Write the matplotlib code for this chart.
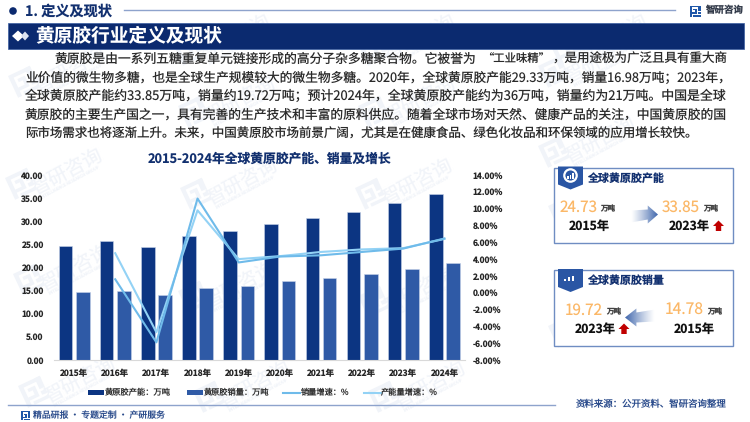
import numpy as np
import matplotlib
matplotlib.use("Agg")
import matplotlib.pyplot as plt
from matplotlib.patches import Polygon, Rectangle, Circle
from matplotlib.transforms import Affine2D

plt.rcParams['font.family'] = ['Noto Sans CJK SC', 'DejaVu Sans']
plt.rcParams['text.hinting'] = 'no_hinting'
plt.rcParams['text.hinting_factor'] = 1

years = ["2015年", "2016年", "2017年", "2018年", "2019年", "2020年", "2021年", "2022年", "2023年", "2024年"]
capacity = [24.73, 25.8, 24.5, 26.9, 27.9, 29.33, 30.6, 32.0, 33.85, 36.0]
sales = [14.78, 14.9, 14.0, 15.6, 16.1, 16.98, 17.7, 18.6, 19.72, 21.0]
sales_growth = [None, 1.6, -5.9, 11.2, 3.6, 4.3, 4.45, 4.85, 5.25, 6.45]
capacity_growth = [None, 4.7, -4.7, 9.8, 4.0, 4.35, 4.85, 5.15, 5.3, 6.4]
left_ticks = [0, 5, 10, 15, 20, 25, 30, 35, 40]
right_ticks = [-8, -6, -4, -2, 0, 2, 4, 6, 8, 10, 12, 14]
body_first = ["黄原胶是由一系列五糖重复单元链接形成的高分子杂多糖聚合物。它被誉为", "“工业味精”", "，是用途极为广泛且具有重大商"]
body = [
    "业价值的微生物多糖，也是全球生产规模较大的微生物多糖。2020年，全球黄原胶产能29.33万吨，销量16.98万吨；2023年，",
    "全球黄原胶产能约33.85万吨，销量约19.72万吨；预计2024年，全球黄原胶产能约为36万吨，销量约为21万吨。中国是全球",
    "黄原胶的主要生产国之一，具有完善的生产技术和丰富的原料供应。随着全球市场对天然、健康产品的关注，中国黄原胶的国",
    "际市场需求也将逐渐上升。未来，中国黄原胶市场前景广阔，尤其是在健康食品、绿色化妆品和环保领域的应用增长较快。",
]
body_ends = [732, 727, 727, 698]

W, H = 750, 422
NAVY = "#0B2A6F"
DARK = "#0C3582"
MID = "#2F5AA6"
LINE1 = "#6FBBEA"
LINE2 = "#93D2F5"
RULE = "#8EA3CC"
ORANGE = "#FBB868"
TITLE = "#12306F"
WM = "#F1F4F9"

fig = plt.figure(figsize=(7.5, 4.22), dpi=100, facecolor="white")
bg = fig.add_axes([0, 0, 1, 1], zorder=0)
bg.set_xlim(0, W); bg.set_ylim(H, 0); bg.axis("off")
renderer = fig.canvas.get_renderer()


def fit(x0, x1, y, s, size=9, **kw):
    """Text that spans x0..x1 pixels: font size is scaled from its measured width."""
    kw.setdefault("zorder", 4)
    t = bg.text(x0, y, s, fontsize=size, va="center", ha="left", **kw)
    width = t.get_window_extent(renderer).width
    t.set_fontsize(size * (x1 - x0) / width)
    return t


def logo(ax, x, y, s, color, rot=0, z=1, alpha=1):
    tr = Affine2D().scale(s).rotate_deg(rot).translate(x, y) + ax.transData
    shapes = [
        [(0, 0), (1, 0), (1, .16), (.18, .16), (.18, .62), (.48, .62), (.48, .42), (.3, .42), (.3, .28),
         (.64, .28), (.64, .76), (.18, .76), (.18, 1), (0, 1)],
        [(.76, 0), (1, 0), (1, .5), (.76, .5)],
        [(.3, .86), (1, .86), (1, 1), (.3, 1)],
        [(.76, .6), (1, .6), (1, .76), (.76, .76)],
    ]
    for p in shapes:
        ax.add_patch(Polygon(p, closed=True, fc=color, ec="none", transform=tr, zorder=z, alpha=alpha))


# watermarks
marks = [(67, 172), (242, 182), (417, 182), (600, 60), (75, 268), (240, 285), (420, 290), (610, 200),
         (80, 380), (255, 385), (430, 385), (610, 320), (235, 38), (420, 38), (612, 38), (70, 70), (240, 100), (420, 100), (600, 140)]
for mx, my in marks:
    bg.text(mx, my, "智研咨询", fontsize=14, color=WM, rotation=28, ha="center", va="center", zorder=0.5)
    bg.text(mx + 3, my + 10, "INTELLIGENCE RESEARCH GROUP", fontsize=3, color=WM, rotation=28,
            ha="center", va="center", zorder=0.5)
    logo(bg, mx - 62, my + 6, 24, WM, rot=-25, z=0.5)

# header
bg.add_patch(Circle((13, 11), 3.8, fc=NAVY, ec="none", zorder=2))
fit(25, 112, 11, "1. 定义及现状", fontweight="bold", color=TITLE)
bg.plot([124, 675], [10, 10], color=RULE, lw=1, zorder=2)
logo(bg, 690, 5.5, 11, "#1F57A8", z=3)
fit(705, 743, 10, "智研咨询", fontweight="bold", color="#333B4A")

# banner
bg.add_patch(Rectangle((8, 22.5), 736, 26, fc=NAVY, ec="#3A5DA0", lw=0.5, zorder=2))
bg.add_patch(Polygon([(12, 36), (18, 30.5), (24, 36), (18, 41.5)], fc="white", ec="none", zorder=3))
bg.add_patch(Polygon([(21, 36), (25, 31.5), (29, 36), (25, 40.5)], fc="#DCE3F0", ec="none", zorder=3))
fit(35, 222, 35.5, "黄原胶行业定义及现状", fontweight="bold", color="white")

# body text
BODY = "#2A2A2A"
fit(55, 477, 59, body_first[0], color=BODY)
fit(482, 550, 59, body_first[1], color=BODY)
fit(552, 727, 59, body_first[2], color=BODY)
for i, (line, end) in enumerate(zip(body, body_ends)):
    fit(25, end, 77.7 + i * 18.7, line, color=BODY)

fit(148, 392, 159, "2015-2024年全球黄原胶产能、销量及增长", fontweight="bold", color=TITLE)

# chart
ax = fig.add_axes([53.5 / W, 1 - 360 / H, 411.5 / W, 185 / H], zorder=2)
ax.patch.set_alpha(0)
x = np.arange(len(years))
barw = 0.33
ax.bar(x - 0.21, capacity, barw, color=DARK, edgecolor="#C7D3E8", linewidth=0.4, zorder=2)
ax.bar(x + 0.21, sales, barw, color=MID, edgecolor="#C7D3E8", linewidth=0.4, zorder=2)
ax.set_xlim(-0.5, 9.5)
ax.set_ylim(0, 40)
ax.set_xticks(x, years)
ax.set_yticks(left_ticks, [f"{v:.2f}" for v in left_ticks])
ax.tick_params(axis="both", length=0, labelsize=6, labelcolor="#262626")
ax.tick_params(axis="x", pad=7)
ax.tick_params(axis="y", pad=7)
for s in ["top", "left", "right"]:
    ax.spines[s].set_visible(False)
ax.spines["bottom"].set_color("#D9D9D9")
for t in ax.get_xticklabels() + ax.get_yticklabels():
    t.set_fontweight("bold")

ax2 = ax.twinx()
ax2.set_zorder(3)
ax2.patch.set_alpha(0)
ax2.set_ylim(-8, 14)
ax2.set_yticks(right_ticks, [f"{v:.2f}%" for v in right_ticks])
ax2.tick_params(axis="y", length=0, labelsize=6, labelcolor="#262626", pad=5.5)
for t in ax2.get_yticklabels():
    t.set_fontweight("bold")
for s in ax2.spines.values():
    s.set_visible(False)
ax2.plot(x[1:], capacity_growth[1:], color=LINE2, lw=1.5, zorder=4)
ax2.plot(x[1:], sales_growth[1:], color=LINE1, lw=1.5, zorder=5)

# legend
ly = 392.5
LEG = "#303030"
bg.add_patch(Rectangle((88, ly - 2.2), 16, 4.4, fc=DARK, ec="none", zorder=3))
fit(105, 171, ly, "黄原胶产能：万吨", fontweight="medium", color=LEG)
bg.add_patch(Rectangle((187, ly - 2.2), 16, 4.4, fc=MID, ec="none", zorder=3))
fit(203.5, 269, ly, "黄原胶销量：万吨", fontweight="medium", color=LEG)
bg.plot([283, 300], [ly, ly], color=LINE1, lw=1.5, zorder=3)
fit(300.5, 349, ly, "销量增速：%", fontweight="medium", color=LEG)
bg.plot([364, 381], [ly, ly], color=LINE2, lw=1.5, zorder=3)
fit(381, 438, ly, "产能量增速：%", fontweight="medium", color=LEG)

# footer
bg.plot([8, 555], [405, 405], color=RULE, lw=1, zorder=2)
logo(bg, 21, 411, 9, "#1F57A8", z=3)
fit(33, 165, 415.5, "精品研报 · 专题定制 · 产研服务", color="#2B4C8C")
fit(576, 727, 404, "资料来源：公开资料、智研咨询整理", color="#2B4C8C")


def grad_arrow(a, x0, x1, yc, rev=False):
    """Block arrow fading towards its tail."""
    n = 64
    col = np.array(matplotlib.colors.to_rgb("#3F66AC"))
    img = np.ones((2, n, 4)); img[..., :3] = col
    ramp = np.linspace(0.0, 1.0, n) ** 1.2
    img[..., 3] = ramp[::-1] if rev else ramp
    im = a.imshow(img, extent=(x0, x1, yc + 11, yc - 11), aspect="auto", zorder=3, interpolation="bilinear")
    L = x1 - x0
    if not rev:
        pts = [(x0, yc - 4), (x0 + L * .62, yc - 5), (x0 + L * .62, yc - 9), (x1, yc), (x0 + L * .62, yc + 9),
               (x0 + L * .62, yc + 5), (x0, yc + 8)]
    else:
        pts = [(x1, yc - 8), (x1 - L * .62, yc - 5), (x1 - L * .62, yc - 9), (x0, yc), (x1 - L * .62, yc + 9),
               (x1 - L * .62, yc + 5), (x1, yc + 4)]
    poly = Polygon(pts, transform=a.transData, fc="none", ec="none")
    a.add_patch(poly)
    im.set_clip_path(poly)


def up_arrow(a, cx, cy):
    pts = [(cx - 5.5, cy), (cx, cy - 5.5), (cx + 5.5, cy), (cx + 2.7, cy), (cx + 2.7, cy + 5), (cx - 2.7, cy + 5), (cx - 2.7, cy)]
    a.add_patch(Polygon(pts, fc="#C00000", ec="none", zorder=4))


def panel(a, top, title, icon_round):
    a.add_patch(Rectangle((554, top), 179, 75.5, fc="white", ec="#6F8DC2", lw=1, zorder=2))
    a.add_patch(Polygon([(558, top - 1), (583, top - 1), (583, top + 17), (570.5, top + 22), (558, top + 17)],
                        fc="#2A56A4", ec="none", zorder=3))
    if icon_round:
        a.add_patch(Circle((570.5, top + 8), 6.2, fc="none", ec="white", lw=1.6, zorder=4))
    for k, h in enumerate([2.5, 4, 5.5]):
        bx = 567.3 + k * 2.4 if icon_round else 564 + k * 4
        a.add_patch(Rectangle((bx, top + 11 - h), 1.6 if icon_round else 2.4, h, fc="white", ec="none", zorder=5))
    fit(587.5, 664.5, top + 10.5, title, fontweight="bold", color=TITLE)


panel(bg, 167.5, "全球黄原胶产能", True)
panel(bg, 270, "全球黄原胶销量", False)


def stat(x_num, x_num_end, y, num, x_unit, x_year, year):
    fit(x_num, x_num_end, y, num, fontweight="medium", color=ORANGE)
    fit(x_unit, x_unit + 15, y + 1.5, "万吨", fontweight="bold", color="#444444")
    fit(x_year, x_year + 41, y + 19, year, fontweight="bold", color="#111111")


stat(560, 598, 207, "24.73", 600, 569, "2015年")
grad_arrow(bg, 631, 658, 214.5)
stat(662, 700, 207, "33.85", 703, 669, "2023年")
up_arrow(bg, 718.5, 226)
stat(565, 603, 310, "19.72", 606, 575, "2023年")
up_arrow(bg, 624, 329)
grad_arrow(bg, 625, 655, 317.5, rev=True)
stat(665, 704, 310, "14.78", 707, 674, "2015年")
bg.set_xlim(0, W); bg.set_ylim(H, 0)

fig.savefig("out.png", dpi=100)
